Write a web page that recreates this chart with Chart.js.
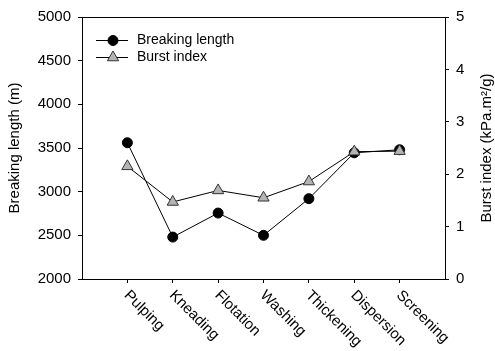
<!DOCTYPE html>
<html>
<head>
<meta charset="utf-8">
<script src="https://cdn.jsdelivr.net/npm/chart.js@4.4.1/dist/chart.umd.min.js"></script>
<style>
  html, body { margin: 0; padding: 0; background: #fff; }
  #wrap { width: 495px; height: 351px; }
</style>
</head>
<body>
<div id="wrap"><canvas id="myChart" width="495" height="351"></canvas></div>
<script>
// data
var categories = ['Pulping', 'Kneading', 'Flotation', 'Washing', 'Thickening', 'Dispersion', 'Screening'];
var breakingLength = [3560, 2480, 2755, 2500, 2920, 3445, 3480];
var burstIndex = [2.15, 1.47, 1.69, 1.55, 1.86, 2.43, 2.44];
var leftTicks = [2000, 2500, 3000, 3500, 4000, 4500, 5000];
var rightTicks = [0, 1, 2, 3, 4, 5];

var FONT = 'Liberation Sans, Arial, sans-serif';

function pts(arr) {
  return arr.map(function (v, i) { return { x: i + 1, y: v }; });
}

// extra drawing: top frame line, rotated category labels, titles, legend
var extras = {
  id: 'extras',
  afterDraw: function (chart) {
    var ctx = chart.ctx;
    var a = chart.chartArea;
    var xs = chart.scales.x;
    ctx.save();
    ctx.strokeStyle = '#000';
    ctx.lineWidth = 1;
    ctx.beginPath();
    ctx.moveTo(a.left, a.top + 0.5);
    ctx.lineTo(a.right, a.top + 0.5);
    ctx.stroke();

    // category labels, slanted downwards to the right
    ctx.fillStyle = '#000';
    ctx.font = '15px ' + FONT;
    ctx.textAlign = 'left';
    ctx.textBaseline = 'middle';
    categories.forEach(function (c, i) {
      var px = xs.getPixelForValue(i + 1);
      ctx.save();
      ctx.translate(px - 1, a.bottom + 14);
      ctx.rotate(Math.PI / 4);
      ctx.fillText(c, 0, 0);
      ctx.restore();
    });

    // axis titles
    ctx.textAlign = 'center';
    ctx.save();
    ctx.translate(15, (a.top + a.bottom) / 2);
    ctx.rotate(-Math.PI / 2);
    ctx.fillText('Breaking length (m)', 0, 0);
    ctx.restore();
    ctx.save();
    ctx.translate(487, (a.top + a.bottom) / 2);
    ctx.rotate(-Math.PI / 2);
    ctx.fillText('Burst index (kPa.m\u00b2/g)', 0, 0);
    ctx.restore();

    // legend
    var items = [
      { label: 'Breaking length', style: 'circle', r: 5, fill: '#000', y: 40 },
      { label: 'Burst index', style: 'triangle', r: 6.5, fill: '#b4b4b4', y: 57 }
    ];
    ctx.font = '14px ' + FONT;
    ctx.textAlign = 'left';
    items.forEach(function (it) {
      ctx.strokeStyle = '#000';
      ctx.lineWidth = 1;
      ctx.beginPath();
      ctx.moveTo(96, it.y + 0.5);
      ctx.lineTo(128, it.y + 0.5);
      ctx.stroke();
      ctx.fillStyle = it.fill;
      ctx.strokeStyle = it.style === 'triangle' ? '#333' : '#000';
      Chart.helpers.drawPoint(ctx, { pointStyle: it.style, radius: it.r, borderWidth: 1, rotation: 0 }, 113, it.y + 0.5);
      ctx.fillStyle = '#000';
      ctx.fillText(it.label, 137, it.y);
    });
    ctx.restore();
  }
};

new Chart(document.getElementById('myChart'), {
  type: 'line',
  data: {
    datasets: [
      {
        label: 'Breaking length',
        data: pts(breakingLength),
        yAxisID: 'y',
        borderColor: '#000',
        borderWidth: 1,
        pointStyle: 'circle',
        pointRadius: 5,
        pointBackgroundColor: '#000',
        pointBorderColor: '#000',
        pointBorderWidth: 1,
        order: 2
      },
      {
        label: 'Burst index',
        data: pts(burstIndex),
        yAxisID: 'y1',
        borderColor: '#000',
        borderWidth: 1,
        pointStyle: 'triangle',
        pointRadius: 6.5,
        pointBackgroundColor: '#b4b4b4',
        pointBorderColor: '#333',
        pointBorderWidth: 1,
        order: 1
      }
    ]
  },
  options: {
    responsive: false,
    animation: false,
    layout: { padding: { top: 17, right: 0, bottom: 0, left: 0 } },
    plugins: { legend: { display: false }, tooltip: { enabled: false } },
    scales: {
      x: {
        type: 'linear',
        min: 0,
        max: 8,
        afterBuildTicks: function (s) {
          s.ticks = categories.map(function (c, i) { return { value: i + 1 }; });
        },
        afterFit: function (s) { s.height = 72; },
        ticks: { display: false },
        grid: { drawOnChartArea: false, drawTicks: true, tickLength: 4, color: '#000' },
        border: { color: '#000', width: 1 }
      },
      y: {
        position: 'left',
        min: 2000,
        max: 5000,
        afterBuildTicks: function (s) {
          s.ticks = leftTicks.map(function (v) { return { value: v }; });
        },
        afterFit: function (s) { s.width = 82; },
        ticks: {
          color: '#000', padding: 7, font: { family: FONT, size: 15 },
          callback: function (v) { return String(v); }
        },
        grid: { drawOnChartArea: false, tickLength: 4, color: '#000' },
        border: { color: '#000', width: 1 }
      },
      y1: {
        position: 'right',
        min: 0,
        max: 5,
        afterBuildTicks: function (s) {
          s.ticks = rightTicks.map(function (v) { return { value: v }; });
        },
        afterFit: function (s) { s.width = 50; },
        ticks: {
          color: '#000', padding: 7, font: { family: FONT, size: 15 },
          callback: function (v) { return String(v); }
        },
        grid: { drawOnChartArea: false, tickLength: 4, color: '#000' },
        border: { color: '#000', width: 1 }
      }
    }
  },
  plugins: [extras]
});
</script>
</body>
</html>
